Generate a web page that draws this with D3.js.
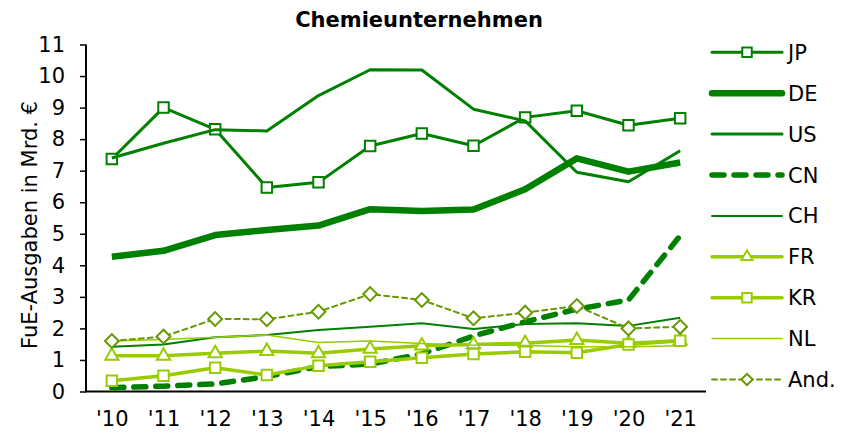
<!DOCTYPE html>
<html>
<head>
<meta charset="utf-8">
<script src="https://cdn.jsdelivr.net/npm/d3@7"></script>
<style>
  body { margin: 0; background: #fff; }
  svg { font-family: "DejaVu Sans", Verdana, sans-serif; }
</style>
</head>
<body>
<svg id="chart" width="845" height="433"></svg>
<script>
const years = ["'10", "'11", "'12", "'13", "'14", "'15", "'16", "'17", "'18", "'19", "'20", "'21"];
const yTicks = [0, 1, 2, 3, 4, 5, 6, 7, 8, 9, 10, 11];

const jp = [7.37, 9.0, 8.31, 6.47, 6.63, 7.78, 8.18, 7.79, 8.69, 8.9, 8.44, 8.66];
const de = [4.27, 4.46, 4.96, 5.12, 5.26, 5.78, 5.72, 5.77, 6.41, 7.39, 6.97, 7.26];
const us = [7.4, 7.87, 8.3, 8.26, 9.38, 10.2, 10.19, 8.95, 8.58, 6.95, 6.65, 7.63];
const cn = [0.12, 0.17, 0.24, 0.47, 0.79, 0.87, 1.19, 1.76, 2.21, 2.61, 2.9, 4.94];
const ch = [1.42, 1.49, 1.72, 1.79, 1.95, 2.05, 2.16, 1.98, 2.14, 2.16, 2.08, 2.34];
const fr = [1.13, 1.13, 1.21, 1.28, 1.21, 1.35, 1.45, 1.49, 1.53, 1.63, 1.53, 1.61];
const kr = [0.34, 0.5, 0.75, 0.52, 0.82, 0.94, 1.07, 1.19, 1.26, 1.23, 1.49, 1.61];
const nl = [1.6, 1.65, 1.72, 1.79, 1.55, 1.6, 1.52, 1.47, 1.46, 1.42, 1.42, 1.45];
const and = [1.6, 1.74, 2.3, 2.29, 2.53, 3.09, 2.9, 2.32, 2.5, 2.71, 2.0, 2.05];

const dark = "#008000";
const light = "#99cc00";
const olive = "#669900";

// legend order = drawing order
const series = [
    { name: "JP", values: jp, color: dark, width: 3, dash: null, marker: "square" },
    { name: "DE", values: de, color: dark, width: 6.5, dash: null, marker: null },
    { name: "US", values: us, color: dark, width: 3, dash: null, marker: null },
    { name: "CN", values: cn, color: dark, width: 5.5, dash: "12,10", marker: null },
    { name: "CH", values: ch, color: dark, width: 2, dash: null, marker: null },
    { name: "FR", values: fr, color: light, width: 3.5, dash: null, marker: "triangle" },
    { name: "KR", values: kr, color: light, width: 3.5, dash: null, marker: "square" },
    { name: "NL", values: nl, color: light, width: 1.5, dash: null, marker: null },
    { name: "And.", values: and, color: olive, width: 2, dash: "5,4", marker: "diamond" }
];

const svg = d3.select("#chart");
const plotLeft = 86, plotRight = 706, plotTop = 44.5, plotBottom = 391.5;
const fontSize = 21;

const x = d3.scalePoint().domain(years).range([plotLeft, plotRight]).padding(0.5);
const y = d3.scaleLinear().domain([0, 11]).range([plotBottom, plotTop]);

const symbols = {
    square: d3.symbol().type(d3.symbolSquare).size(110),
    triangle: d3.symbol().type(d3.symbolTriangle).size(75),
    diamond: d3.symbol().type(d3.symbolSquare).size(95)
};
const legendSymbols = {
    square: d3.symbol().type(d3.symbolSquare).size(90),
    triangle: d3.symbol().type(d3.symbolTriangle).size(55),
    diamond: d3.symbol().type(d3.symbolSquare).size(65)
};

// title
svg.append("text")
    .attr("x", 419)
    .attr("y", 27)
    .attr("text-anchor", "middle")
    .attr("font-size", fontSize)
    .attr("font-weight", "bold")
    .text("Chemieunternehmen");

// y axis
const yAxis = svg.append("g")
    .attr("transform", `translate(${plotLeft},0)`)
    .call(d3.axisLeft(y).tickValues(yTicks).tickSize(6).tickPadding(15));
yAxis.select(".domain").attr("stroke", "#000").attr("stroke-width", 2)
    .attr("d", `M0,${plotTop}V${plotBottom}`);
yAxis.selectAll(".tick line").attr("stroke", "#000").attr("stroke-width", 1.5);
yAxis.selectAll(".tick text").attr("font-size", fontSize).attr("fill", "#000")
    .attr("font-family", "DejaVu Sans, sans-serif");

// x axis
const xAxis = svg.append("g")
    .attr("transform", `translate(0,${plotBottom})`)
    .call(d3.axisBottom(x).tickSize(0).tickPadding(20));
xAxis.select(".domain").attr("stroke", "#000").attr("stroke-width", 2)
    .attr("d", `M${plotLeft - 1},0H${plotRight}`);
xAxis.selectAll(".tick text").attr("font-size", fontSize).attr("fill", "#000")
    .attr("font-family", "DejaVu Sans, sans-serif");

// y label
svg.append("text")
    .attr("transform", "translate(37,225) rotate(-90)")
    .attr("text-anchor", "middle")
    .attr("font-size", fontSize)
    .text("FuE-Ausgaben in Mrd. €");

const line = d3.line()
    .x((d, i) => x(years[i]))
    .y(d => y(d));

const markerTransform = (m, px, py) =>
    `translate(${px},${py})` + (m === "diamond" ? " rotate(45)" : "");

series.forEach(s => {
    const g = svg.append("g");
    g.append("path")
        .datum(s.values)
        .attr("d", line)
        .attr("fill", "none")
        .attr("stroke", s.color)
        .attr("stroke-width", s.width)
        .attr("stroke-linejoin", "round")
        .attr("stroke-linecap", s.dash ? "round" : "butt")
        .attr("stroke-dasharray", s.dash);
    if (s.marker) {
        g.selectAll("path.mk")
            .data(s.values)
            .enter()
            .append("path")
            .attr("class", "mk")
            .attr("d", symbols[s.marker])
            .attr("transform", (d, i) => markerTransform(s.marker, x(years[i]), y(d)))
            .attr("fill", "#fff")
            .attr("stroke", s.color)
            .attr("stroke-width", 2);
    }
});

// legend
const legend = svg.append("g").attr("transform", "translate(712,52.3)");
const rowH = 40.9;
series.forEach((s, i) => {
    const row = legend.append("g").attr("transform", `translate(0,${i * rowH})`);
    row.append("line")
        .attr("x1", 0).attr("x2", 70)
        .attr("stroke", s.color)
        .attr("stroke-width", s.width)
        .attr("stroke-linecap", "round")
        .attr("stroke-dasharray", s.dash);
    if (s.marker) {
        row.append("path")
            .attr("d", legendSymbols[s.marker])
            .attr("transform", markerTransform(s.marker, 35, 0))
            .attr("fill", "#fff")
            .attr("stroke", s.color)
            .attr("stroke-width", 2);
    }
    row.append("text")
        .attr("x", 76)
        .attr("y", 0)
        .attr("dy", "0.36em")
        .attr("font-size", fontSize)
        .text(s.name);
});
</script>
</body>
</html>
